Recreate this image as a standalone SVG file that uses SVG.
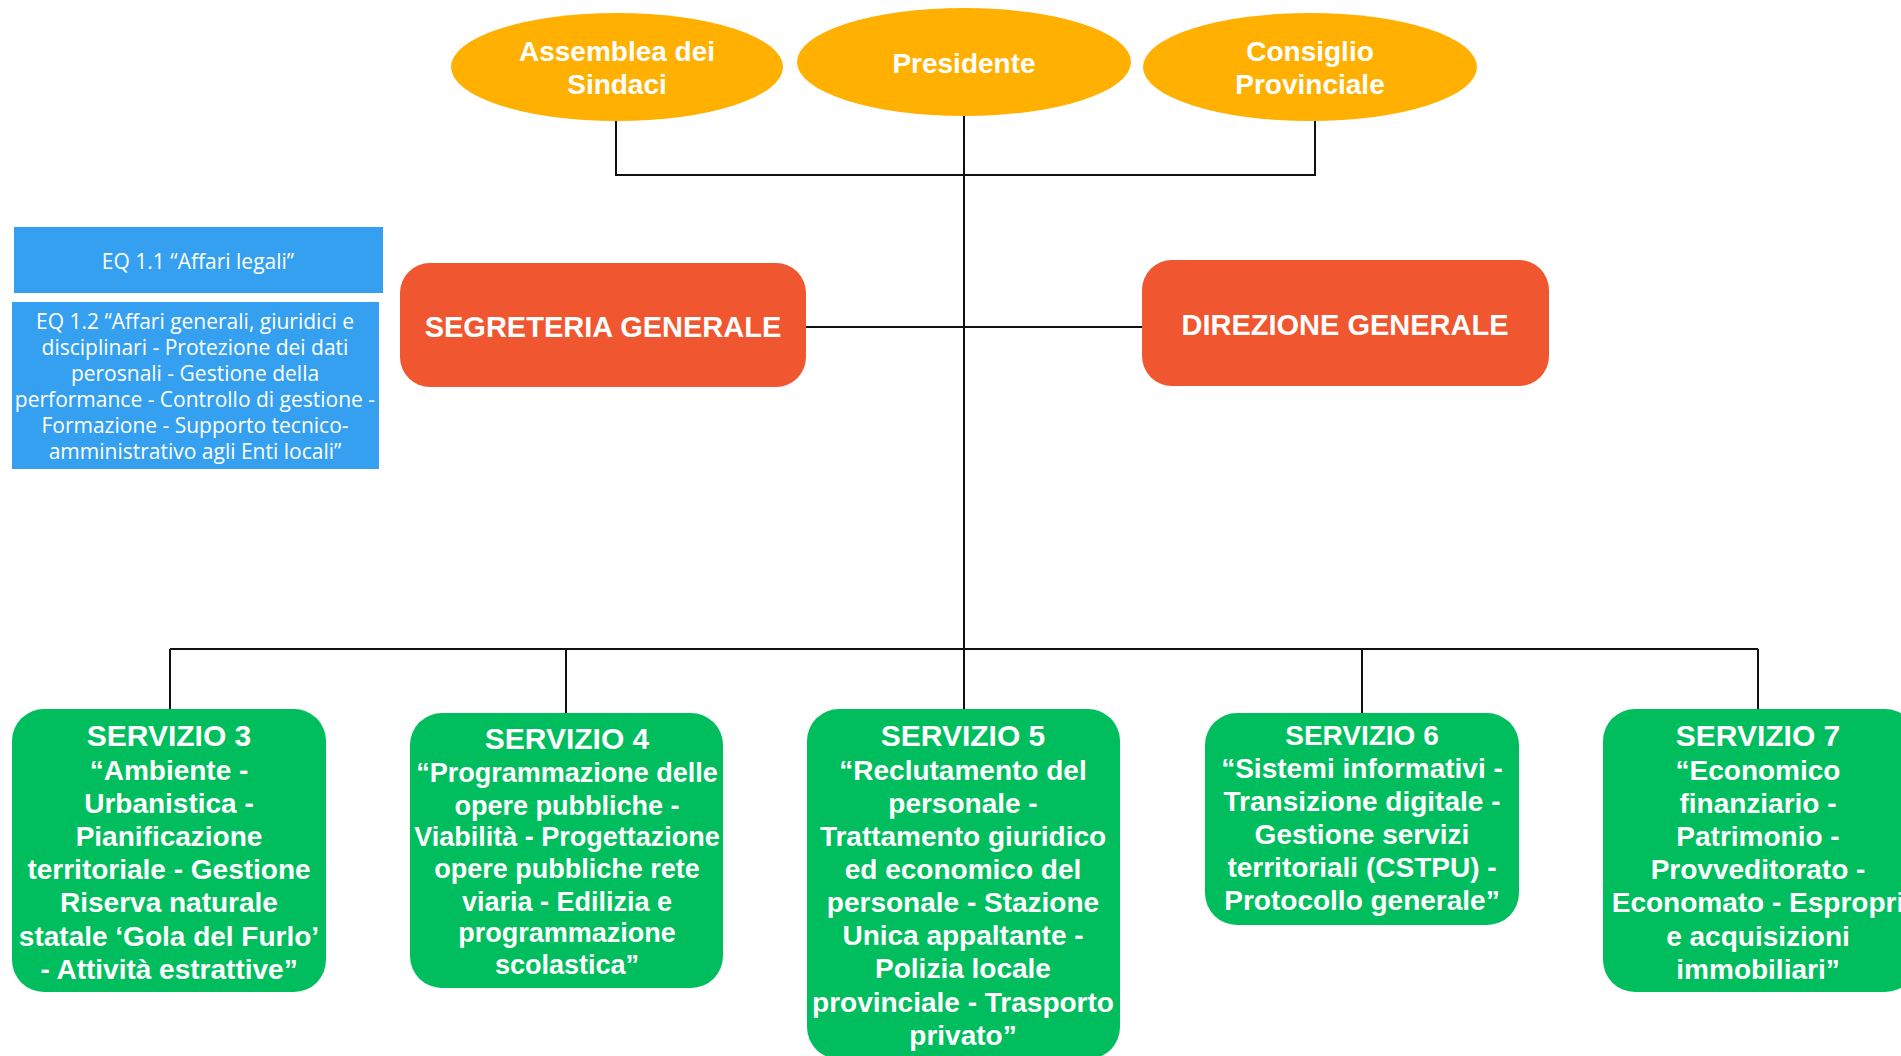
<svg xmlns="http://www.w3.org/2000/svg" width="1901" height="1056" viewBox="0 0 1901 1056">
<style>
.ell{fill:#FFB000}
.red{fill:#F0562F}
.grn{fill:#00BE5E}
.blu{fill:#35A0EF}
.t{font-family:"Liberation Sans",Arial,sans-serif;font-weight:bold;fill:#fff;text-anchor:middle}
.h{font-size:30px}
.b{font-size:28px}
.e{font-size:28px}
.r{font-size:29px}
.q{font-family:"Open Sans","Liberation Sans",sans-serif;font-size:21px;fill:#fff;text-anchor:middle}
.ln{stroke:#111;stroke-width:2;fill:none}
</style>
<rect width="1901" height="1056" fill="#fff"/>
<g id="connectors">
<path class="ln" d="M616 121V175H1315V121"/>
<path class="ln" d="M964 116V649"/>
<path class="ln" d="M806 327H1142"/>
<path class="ln" d="M170 649H1758"/>
<path class="ln" d="M170 649V709M566 649V713M964 649V709M1362 649V713M1758 649V709"/>
</g>
<g id="assemblea">
<ellipse class="ell" cx="617" cy="67" rx="166" ry="54"/>
<text class="t e" x="617" y="61">Assemblea dei</text>
<text class="t e" x="617" y="94">Sindaci</text>
</g>
<g id="presidente">
<ellipse class="ell" cx="964" cy="62" rx="167" ry="54"/>
<text class="t e" x="964" y="73">Presidente</text>
</g>
<g id="consiglio">
<ellipse class="ell" cx="1310" cy="67" rx="167" ry="54"/>
<text class="t e" x="1310" y="61">Consiglio</text>
<text class="t e" x="1310" y="94">Provinciale</text>
</g>
<g id="eq11">
<rect class="blu" x="14" y="227" width="369" height="66"/>
<text class="q" x="198" y="269">EQ 1.1 “Affari legali”</text>
</g>
<g id="eq12">
<rect class="blu" x="12" y="302" width="367" height="167"/>
<text class="q" x="195" y="329">EQ 1.2 “Affari generali, giuridici e</text>
<text class="q" x="195" y="355">disciplinari - Protezione dei dati</text>
<text class="q" x="195" y="381">perosnali - Gestione della</text>
<text class="q" x="195" y="407">performance - Controllo di gestione -</text>
<text class="q" x="195" y="433">Formazione - Supporto tecnico-</text>
<text class="q" x="195" y="459">amministrativo agli Enti locali”</text>
</g>
<g id="segreteria">
<rect class="red" x="400" y="263" width="406" height="124" rx="30"/>
<text class="t r" x="603" y="337">SEGRETERIA GENERALE</text>
</g>
<g id="direzione">
<rect class="red" x="1142" y="260" width="407" height="126" rx="30"/>
<text class="t r" x="1345" y="335">DIREZIONE GENERALE</text>
</g>
<g id="servizio3">
<rect class="grn" x="12" y="709" width="314" height="283" rx="32"/>
<text class="t h" x="169" y="746">SERVIZIO 3</text>
<text class="t b" x="169" y="780">“Ambiente -</text>
<text class="t b" x="169" y="813">Urbanistica -</text>
<text class="t b" x="169" y="846">Pianificazione</text>
<text class="t b" x="169" y="879">territoriale - Gestione</text>
<text class="t b" x="169" y="912">Riserva naturale</text>
<text class="t b" x="169" y="946">statale ‘Gola del Furlo’</text>
<text class="t b" x="169" y="979">- Attività estrattive”</text>
</g>
<g id="servizio4">
<rect class="grn" x="410" y="713" width="313" height="275" rx="32"/>
<text class="t h" x="567" y="749">SERVIZIO 4</text>
<text class="t b" x="567" y="782" style="font-size:27px">“Programmazione delle</text>
<text class="t b" x="567" y="815" style="font-size:27px">opere pubbliche -</text>
<text class="t b" x="567" y="846" style="font-size:27px">Viabilità - Progettazione</text>
<text class="t b" x="567" y="878" style="font-size:27px">opere pubbliche rete</text>
<text class="t b" x="567" y="911" style="font-size:27px">viaria - Edilizia e</text>
<text class="t b" x="567" y="942" style="font-size:27px">programmazione</text>
<text class="t b" x="567" y="974" style="font-size:27px">scolastica”</text>
</g>
<g id="servizio5">
<rect class="grn" x="807" y="709" width="313" height="350" rx="32"/>
<text class="t h" x="963" y="746">SERVIZIO 5</text>
<text class="t b" x="963" y="780">“Reclutamento del</text>
<text class="t b" x="963" y="813">personale -</text>
<text class="t b" x="963" y="846">Trattamento giuridico</text>
<text class="t b" x="963" y="879">ed economico del</text>
<text class="t b" x="963" y="912">personale - Stazione</text>
<text class="t b" x="963" y="945">Unica appaltante -</text>
<text class="t b" x="963" y="978">Polizia locale</text>
<text class="t b" x="963" y="1012">provinciale - Trasporto</text>
<text class="t b" x="963" y="1045">privato”</text>
</g>
<g id="servizio6">
<rect class="grn" x="1205" y="713" width="314" height="212" rx="32"/>
<text class="t b" x="1362" y="745">SERVIZIO 6</text>
<text class="t b" x="1362" y="778">“Sistemi informativi -</text>
<text class="t b" x="1362" y="811">Transizione digitale -</text>
<text class="t b" x="1362" y="844">Gestione servizi</text>
<text class="t b" x="1362" y="877">territoriali (CSTPU) -</text>
<text class="t b" x="1362" y="910">Protocollo generale”</text>
</g>
<g id="servizio7">
<rect class="grn" x="1603" y="709" width="314" height="283" rx="32"/>
<text class="t h" x="1758" y="746">SERVIZIO 7</text>
<text class="t b" x="1758" y="780">“Economico</text>
<text class="t b" x="1758" y="813">finanziario -</text>
<text class="t b" x="1758" y="846">Patrimonio -</text>
<text class="t b" x="1758" y="879">Provveditorato -</text>
<text class="t b" x="1758" y="912">Economato - Espropri</text>
<text class="t b" x="1758" y="946">e acquisizioni</text>
<text class="t b" x="1758" y="979">immobiliari”</text>
</g>
</svg>
